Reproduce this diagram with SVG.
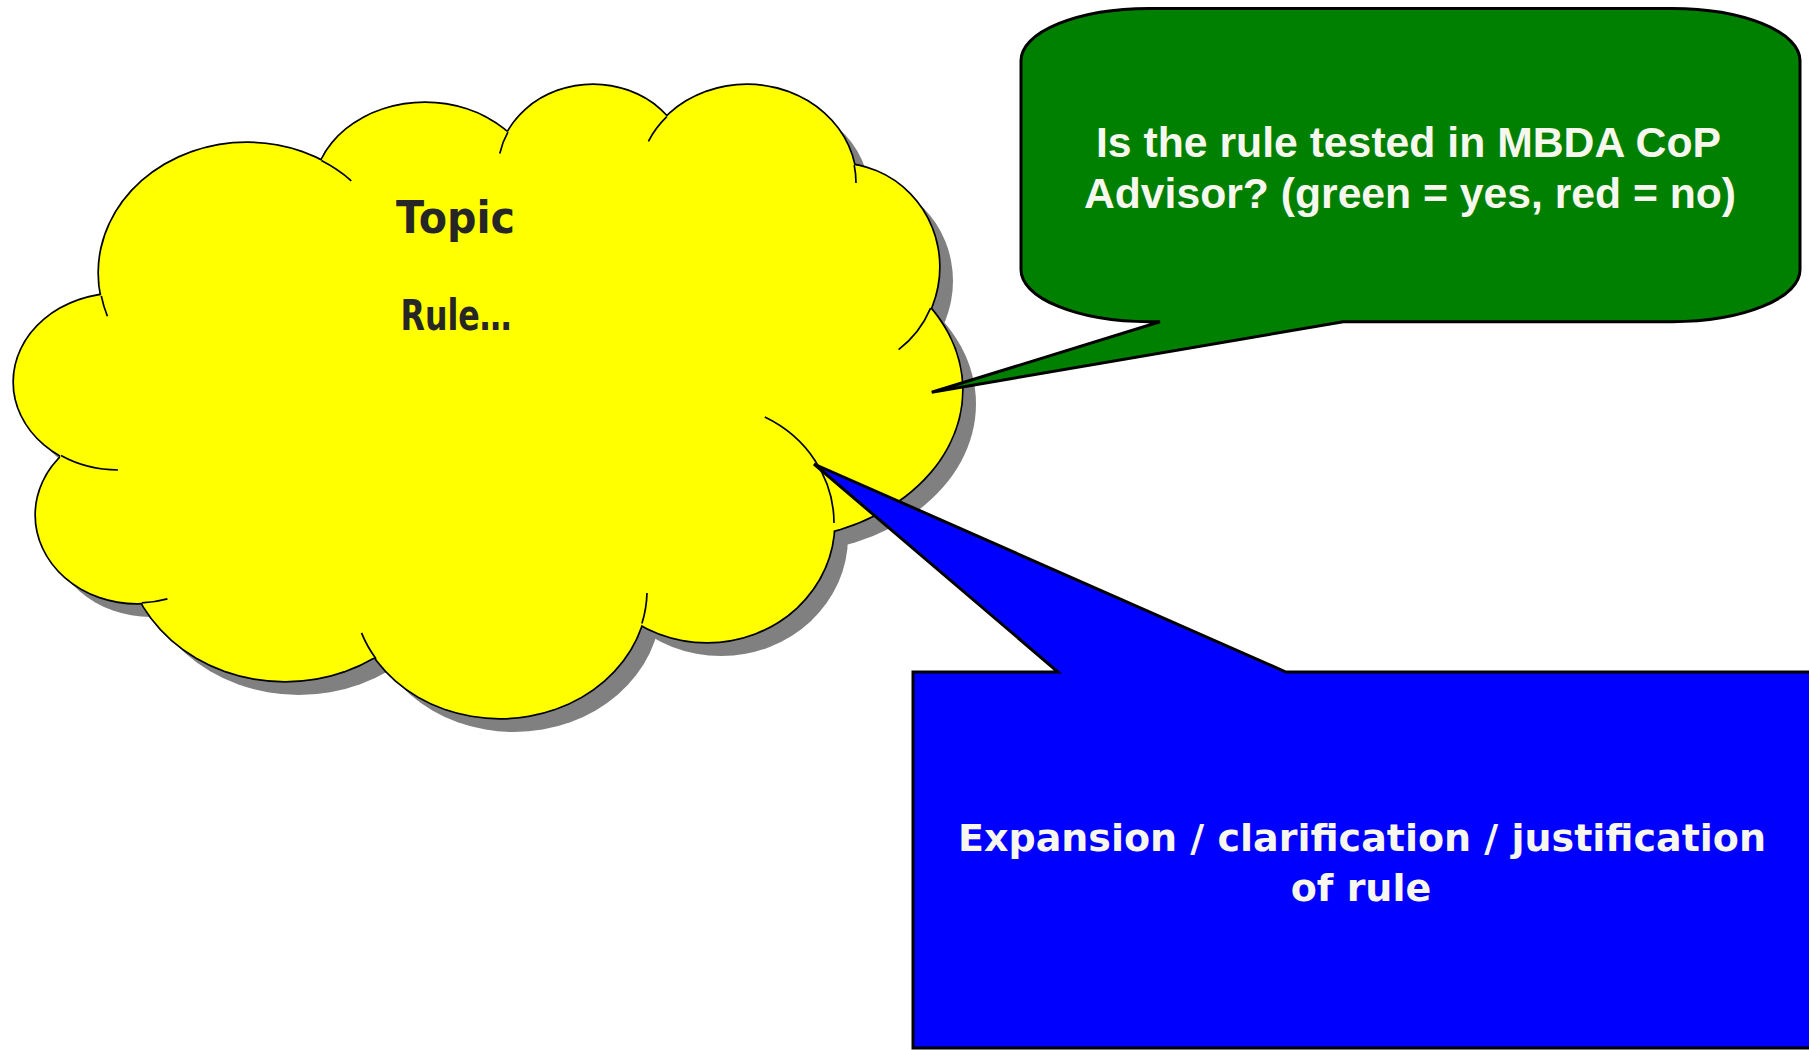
<svg xmlns="http://www.w3.org/2000/svg" xmlns:xlink="http://www.w3.org/1999/xlink" width="1809" height="1050" viewBox="0 0 1809 1050">
<style>
.callout{stroke:#000;stroke-width:3;stroke-linejoin:miter}
.cap{font-family:"Liberation Sans",Arial,sans-serif;font-weight:bold;font-size:42.6px;fill:#f7f7ee;text-anchor:middle}
.comic{font-family:"DejaVu Sans","Noto Sans",sans-serif;font-weight:bold;text-anchor:middle}
.stub{fill:none;stroke:#000;stroke-width:1.7}
</style>
<defs>
<g id="lobes">
<ellipse cx="247" cy="273" rx="148" ry="130"/>
<ellipse cx="425" cy="193" rx="111" ry="90"/>
<ellipse cx="593" cy="170" rx="95" ry="85"/>
<ellipse cx="747" cy="183" rx="109" ry="98"/>
<ellipse cx="839" cy="267" rx="100" ry="103"/>
<ellipse cx="766" cy="390" rx="196" ry="150"/>
<ellipse cx="707" cy="523" rx="127" ry="119"/>
<ellipse cx="500" cy="590" rx="147" ry="128"/>
<ellipse cx="285" cy="540" rx="160" ry="141"/>
<ellipse cx="137" cy="515" rx="101" ry="88"/>
<ellipse cx="118" cy="382" rx="104" ry="88"/>
</g>
<polygon id="core" points="321.7,160 506.7,131.7 666.7,116.7 855,165 930,308 836,528 640,623 376.7,658.3 141.7,601.7 60,457 100,296"/>
</defs>
<rect width="1809" height="1050" fill="#fff"/>
<g id="cloud">
<g fill="#808080" transform="translate(14,14)"><use xlink:href="#lobes"/><use xlink:href="#core"/></g>
<use xlink:href="#lobes" fill="#ffff00" stroke="#000" stroke-width="3.4"/>
<use xlink:href="#lobes" fill="#ffff00" stroke="none"/>
<use xlink:href="#core" fill="#ffff00"/>
<path class="stub" d="M101.3 295.8 A148 130 0 0 0 107.4 316.2 M321.4 160.6 A148 130 0 0 1 351.3 180.8 M507.9 132.2 A95 85 0 0 0 499.8 153.5 M666.8 116.7 A109 98 0 0 0 648.4 141.3 M854.2 165.1 A109 98 0 0 1 856 183 M930.6 308.2 A100 103 0 0 1 898.6 349.7 M834 523 A127 119 0 0 0 764.8 417.1 M376 658.8 A147 128 0 0 1 361.5 632.9 M641.9 623.6 A147 128 0 0 0 647 593 M141.8 602.9 A101 88 0 0 0 167.4 598.9 M61 455.6 A104 88 0 0 0 118 470"/>
<text class="comic" x="455.5" y="233" font-size="45" fill="#262626" textLength="119" lengthAdjust="spacingAndGlyphs">Topic</text>
<text class="comic" x="456" y="330" font-size="43" fill="#262626" textLength="111" lengthAdjust="spacingAndGlyphs">Rule…</text>
</g>
<g id="green-callout">
<path class="callout" fill="#008000" d="M1672 321.7 A128 52 0 0 0 1800 269.7 L1800 60.5 A128 52 0 0 0 1672 8.5 L1149 8.5 A128 52 0 0 0 1021 60.5 L1021 269.7 A128 52 0 0 0 1149 321.7 L1160 321.7 L931.7 392.3 L1343.3 321.7 Z"/>
<text class="cap" x="1408.5" y="157" textLength="625" lengthAdjust="spacingAndGlyphs">Is the rule tested in MBDA CoP</text>
<text class="cap" x="1410" y="207.5" textLength="652" lengthAdjust="spacingAndGlyphs">Advisor? (green = yes, red = no)</text>
</g>
<g id="blue-callout">
<path class="callout" fill="#0000ff" d="M913 672 L1058 672 L814 464 L1286 672 L1815 672 L1815 1048 L913 1048 Z"/>
<text class="comic" x="1362" y="850.5" font-size="38" fill="#f7f7ee">Expansion / clarification / justification</text>
<text class="comic" x="1361" y="901" font-size="38" fill="#f7f7ee">of rule</text>
</g>
</svg>
